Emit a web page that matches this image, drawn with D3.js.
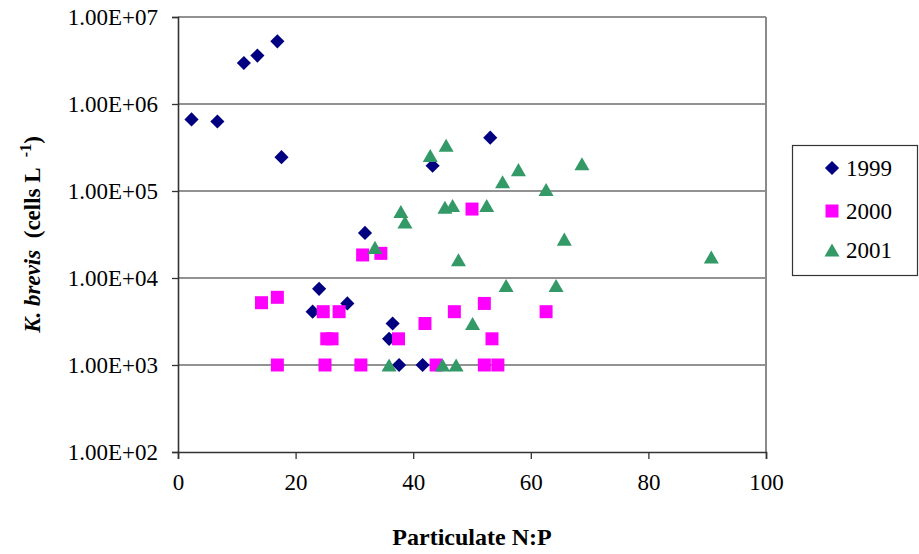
<!DOCTYPE html>
<html>
<head>
<meta charset="utf-8">
<script src="https://cdn.jsdelivr.net/npm/d3@7"></script>
<style>
  html, body { margin: 0; padding: 0; background: #fff; }
  svg { display: block; }
</style>
</head>
<body>
<svg id="chart" width="919" height="554"></svg>
<script>
// Particulate N:P ratio vs K. brevis abundance, by year
const pts1999 = [
  [2.3, 6.65e5], [6.7, 6.3e5], [11.2, 2.96e6], [13.5, 3.6e6], [16.9, 5.25e6],
  [17.6, 2.45e5], [22.9, 4.1e3], [24.0, 7.5e3], [28.8, 5.1e3], [31.8, 3.3e4],
  [35.9, 2.0e3], [36.5, 3.0e3], [37.6, 1.0e3], [41.6, 1.0e3], [43.3, 1.95e5],
  [53.1, 4.1e5]
];
const pts2000 = [
  [14.2, 5.2e3], [16.9, 6.0e3], [16.9, 1.0e3], [24.7, 4.1e3], [25.3, 2.0e3],
  [26.2, 2.0e3], [25.0, 1.0e3], [27.4, 4.1e3], [31.1, 1.0e3], [31.4, 1.84e4],
  [34.5, 1.92e4], [37.5, 2.0e3], [42.0, 3.0e3], [43.9, 1.0e3], [47.0, 4.1e3],
  [50.0, 6.2e4], [52.1, 5.1e3], [52.1, 1.0e3], [53.4, 2.0e3], [54.4, 1.0e3],
  [62.6, 4.1e3]
];
const pts2001 = [
  [33.5, 2.25e4], [35.9, 1.0e3], [37.9, 5.8e4], [38.6, 4.4e4], [42.9, 2.56e5],
  [45.0, 1.0e3], [45.4, 6.5e4], [45.6, 3.35e5], [46.7, 6.8e4], [47.3, 1.0e3],
  [47.7, 1.62e4], [50.1, 3.0e3], [52.5, 6.8e4], [55.2, 1.28e5], [55.8, 8.2e3],
  [57.9, 1.76e5], [62.6, 1.04e5], [64.3, 8.2e3], [65.7, 2.8e4], [68.7, 2.06e5],
  [90.7, 1.74e4]
];
const seriesNames = ["1999", "2000", "2001"];
const xTickValues = [0, 20, 40, 60, 80, 100];
const yTickValues = [1e2, 1e3, 1e4, 1e5, 1e6, 1e7];
const yTickLabels = ["1.00E+02", "1.00E+03", "1.00E+04", "1.00E+05", "1.00E+06", "1.00E+07"];

const FONT = "Liberation Serif, DejaVu Serif, Times New Roman, Times, serif";

// marker shapes: rotated square, square, triangle centred on its box
const diamondType = { draw(ctx, size) {
  const r = Math.sqrt(size / 2);
  ctx.moveTo(0, -r); ctx.lineTo(r, 0); ctx.lineTo(0, r); ctx.lineTo(-r, 0); ctx.closePath();
}};
const squareType = { draw(ctx, size) {
  const h = Math.sqrt(size) / 2;
  ctx.rect(-h, -h, 2 * h, 2 * h);
}};
const triangleType = { draw(ctx, size) {
  const w = Math.sqrt(size * 2 / 0.87);
  const h = w * 0.87;
  ctx.moveTo(0, -h / 2); ctx.lineTo(w / 2, h / 2); ctx.lineTo(-w / 2, h / 2); ctx.closePath();
}};

const series = [
  { name: seriesNames[0], data: pts1999, color: "#000080", type: diamondType, size: 100 },
  { name: seriesNames[1], data: pts2000, color: "#FF00FF", type: squareType, size: 169 },
  { name: seriesNames[2], data: pts2001, color: "#339966", type: triangleType, size: 98 }
];

const svg = d3.select("#chart").attr("font-family", FONT);
const plot = { left: 178, right: 766, top: 17, bottom: 452 };

const x = d3.scaleLinear().domain([0, 100]).range([plot.left, plot.right]);
const y = d3.scaleLog().domain([1e2, 1e7]).range([plot.bottom, plot.top]);

// horizontal gridlines
svg.append("g")
  .selectAll("line")
  .data(yTickValues.filter(v => v > 1e2))
  .join("line")
  .attr("x1", plot.left).attr("x2", plot.right)
  .attr("y1", d => y(d)).attr("y2", d => y(d))
  .attr("stroke", "#6e6e6e").attr("stroke-width", 1.3);

// right border of plot area
svg.append("line")
  .attr("x1", plot.right).attr("x2", plot.right)
  .attr("y1", plot.top).attr("y2", plot.bottom)
  .attr("stroke", "#8a8a8a").attr("stroke-width", 2);

// y axis
const yAxis = d3.axisLeft(y)
  .tickValues(yTickValues)
  .tickFormat(d => yTickLabels[yTickValues.indexOf(d)])
  .tickSize(6)
  .tickPadding(14);
const gy = svg.append("g").attr("transform", `translate(${plot.left},0)`).call(yAxis)
  .attr("font-family", FONT).attr("font-size", 23);
gy.select(".domain").attr("stroke", "#333").attr("stroke-width", 1.6);
gy.selectAll(".tick line").attr("stroke", "#333").attr("stroke-width", 1.3);
gy.selectAll(".tick text").attr("fill", "#000");

// x axis
const xAxis = d3.axisBottom(x)
  .tickValues(xTickValues)
  .tickFormat(d3.format("d"))
  .tickSize(7)
  .tickPadding(15);
const gx = svg.append("g").attr("transform", `translate(0,${plot.bottom})`).call(xAxis)
  .attr("font-family", FONT).attr("font-size", 23);
gx.select(".domain").attr("stroke", "#333").attr("stroke-width", 1.6);
gx.selectAll(".tick line").attr("stroke", "#333").attr("stroke-width", 1.3);
gx.selectAll(".tick text").attr("fill", "#000");

// points, drawn year by year
series.forEach(s => {
  svg.append("g")
    .selectAll("path")
    .data(s.data)
    .join("path")
    .attr("transform", d => `translate(${x(d[0])},${y(d[1])})`)
    .attr("d", d3.symbol().type(s.type).size(s.size))
    .attr("fill", s.color);
});

// axis titles
svg.append("text")
  .attr("x", (plot.left + plot.right) / 2)
  .attr("y", 545)
  .attr("text-anchor", "middle")
  .attr("font-size", 24).attr("font-weight", "bold")
  .text("Particulate N:P");

const yTitle = svg.append("text")
  .attr("transform", `translate(40,${(plot.top + plot.bottom) / 2}) rotate(-90)`)
  .attr("text-anchor", "middle")
  .attr("font-size", 23).attr("font-weight", "bold");
yTitle.append("tspan").attr("font-style", "italic").text("K. brevis");
yTitle.append("tspan").text("\u00a0 (cells L \u00a0");
yTitle.append("tspan").attr("dy", -9).attr("font-size", 16).text("-1");
yTitle.append("tspan").attr("dy", 9).text(")");

// legend
const legend = svg.append("g");
legend.append("rect")
  .attr("x", 792.5).attr("y", 145.5).attr("width", 125).attr("height", 130)
  .attr("fill", "#fff").attr("stroke", "#333").attr("stroke-width", 1.2);
const legendY = [168, 211, 250];
series.forEach((s, i) => {
  legend.append("path")
    .attr("transform", `translate(832,${legendY[i]})`)
    .attr("d", d3.symbol().type(s.type).size(s.size))
    .attr("fill", s.color);
  legend.append("text")
    .attr("x", 846).attr("y", legendY[i]).attr("dy", "0.35em")
    .attr("font-size", 23)
    .text(s.name);
});
</script>
</body>
</html>
